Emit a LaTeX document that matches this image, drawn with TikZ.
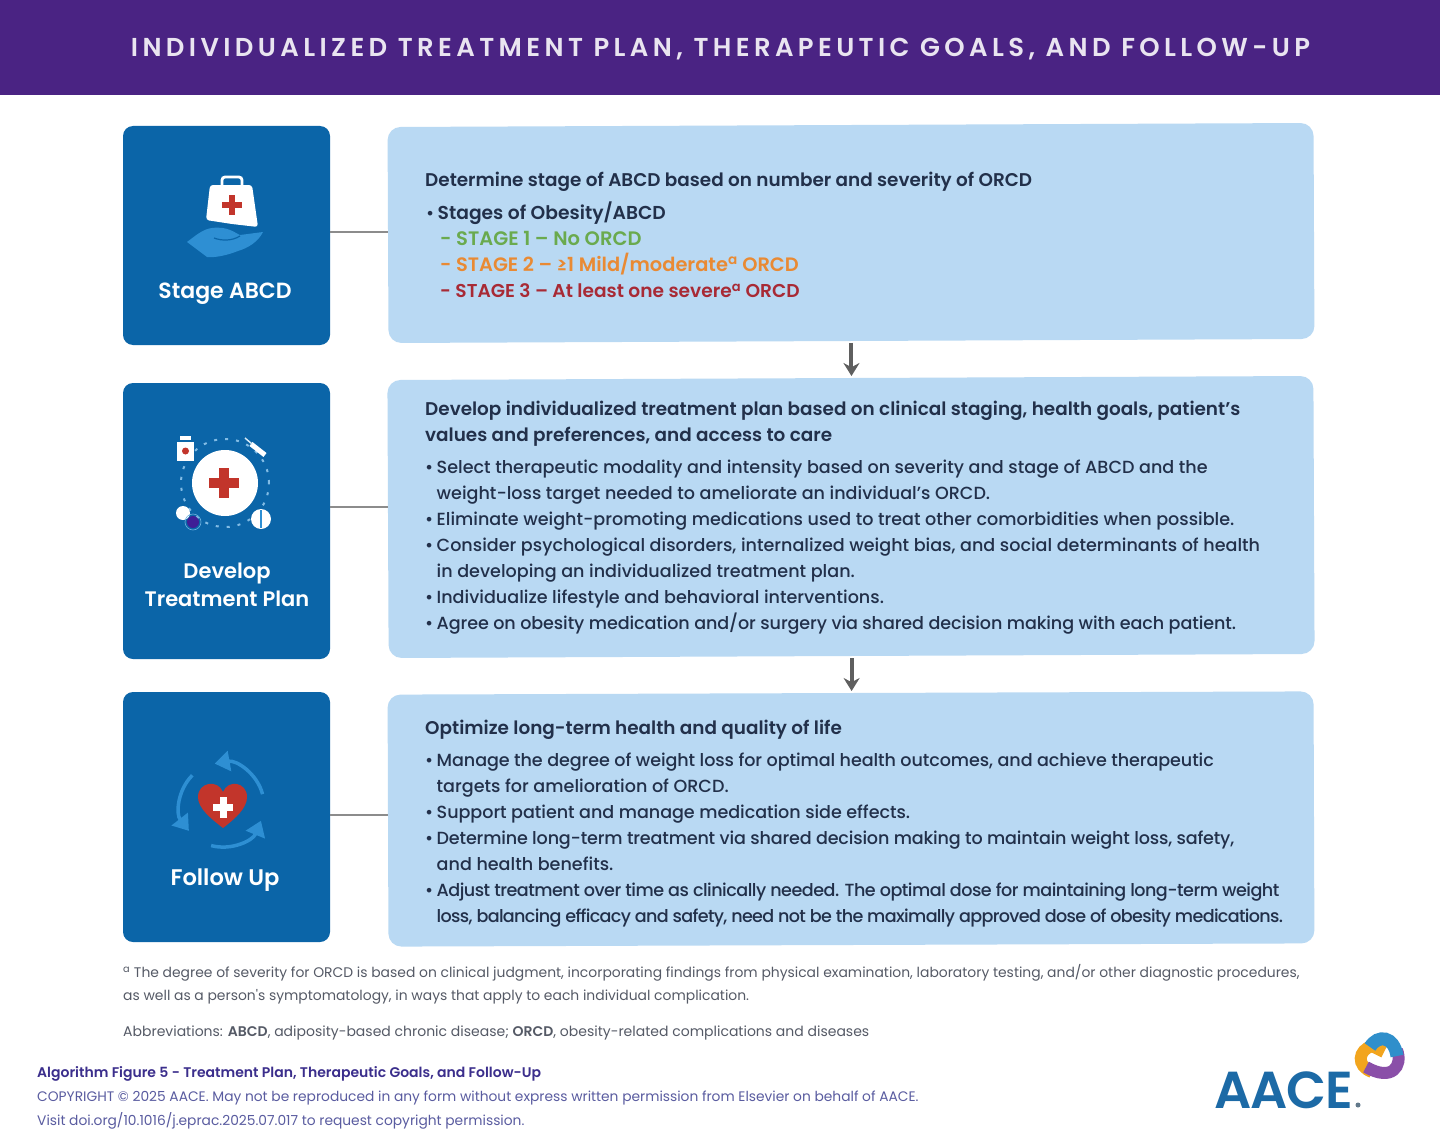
\documentclass[tikz,border=0pt]{standalone}
\usepackage{fontspec}
\setmainfont{Poppins Medium}[BoldFont={Poppins SemiBold}]
\newfontfamily\regf{Poppins}
\usetikzlibrary{arrows.meta,calc}
\definecolor{hdr}{HTML}{4A2383}
\definecolor{navy}{HTML}{0B65A8}
\definecolor{pale}{HTML}{B9D9F3}
\definecolor{ink}{HTML}{22304A}
\definecolor{stg1}{HTML}{6AAA4E}
\definecolor{stg2}{HTML}{E98A33}
\definecolor{stg3}{HTML}{A82A35}
\definecolor{redx}{HTML}{C2352B}
\definecolor{sky}{HTML}{2E8FD3}
\definecolor{lnk}{HTML}{8C8C8C}
\definecolor{arw}{HTML}{5F5F5F}
\definecolor{foot}{HTML}{555A66}
\definecolor{algo}{HTML}{3B2E8C}
\definecolor{copyc}{HTML}{5A5CA0}
\definecolor{logob}{HTML}{1C6AA6}
\definecolor{knotb}{HTML}{2F8FCB}
\definecolor{knoto}{HTML}{F2A51E}
\definecolor{knotp}{HTML}{8A4FA8}
\tikzset{
 x=1pt,y=-1pt,
 stagebox/.style={draw=none,fill=navy,rounded corners=10pt,minimum width=207pt,inner sep=0pt,outer sep=0pt},
 infobox/.style={draw=none,fill=pale,rounded corners=13pt,minimum width=926pt,inner sep=0pt,outer sep=0pt},
 stagelabel/.style={text=white,font=\bfseries\fontsize{21}{28}\selectfont,align=center,inner sep=0pt},
 headtext/.style={anchor=north west,inner sep=0pt,text=ink,align=left,font=\bfseries\fontsize{18.4}{26}\selectfont},
 bodytext/.style={anchor=north west,inner sep=0pt,text=ink,align=left,font=\fontsize{17.57}{26}\selectfont},
 foottext/.style={anchor=north west,inner sep=0pt,text=foot,align=left,font=\regf\fontsize{13.9}{23}\selectfont},
 linkline/.style={draw=lnk,line width=2pt},
 flowarrow/.style={draw=arw,line width=4pt,-{Stealth[length=13pt,width=16pt]},shorten >=2pt,shorten <=2pt},
 cyclearrow/.style={draw=sky,line width=3.5pt,-{Triangle[length=15pt,width=20pt]}},
}
\newcommand{\itm}[1]{\makebox[11.5pt][l]{•}#1}
\newcommand{\cont}[1]{\hspace*{11.5pt}#1}
\newcommand{\tight}[1]{\addfontfeatures{LetterSpace=#1}}
\newcommand{\stageline}[3]{\hspace*{14pt}{\textcolor{#1}{\bfseries\fontsize{#2}{26}\selectfont - #3}}}
\newcommand{\redcross}[3]{\fill[redx] ($(#1,#2)+(-#3/2,-#3/6)$) rectangle ($(#1,#2)+(#3/2,#3/6)$);\fill[redx] ($(#1,#2)+(-#3/6,-#3/2)$) rectangle ($(#1,#2)+(#3/6,#3/2)$);}
\begin{document}
\begin{tikzpicture}
\useasboundingbox (0,0) rectangle (1440,1137);
\fill[white] (0,0) rectangle (1440,1137);
\node[fill=hdr,minimum width=1440pt,minimum height=95pt,inner sep=0pt,outer sep=0pt,anchor=north west] (banner) at (0,0) {};
\node[text=white!88!hdr,inner sep=0pt] (title) at (720.5,49) {\bfseries\addfontfeatures{LetterSpace=17}\fontsize{25.9}{30}\selectfont INDIVIDUALIZED TREATMENT PLAN, THERAPEUTIC GOALS, AND FOLLOW-UP};

% boxes
\node[stagebox,minimum height=219pt] (sA) at (226.5,235.5) {};
\node[stagebox,minimum height=276pt] (sB) at (226.5,521) {};
\node[stagebox,minimum height=250pt] (sC) at (226.5,817) {};
\node[infobox,minimum height=216pt,rotate=0.25] (tA) at (851,233) {};
\node[infobox,minimum height=278pt,rotate=0.25] (tB) at (851,517) {};
\node[infobox,minimum height=252pt,rotate=0.2] (tC) at (851,819) {};

% connectors
\draw[linkline] ([yshift=3pt]tA.west -| sA.east) -- ([yshift=3pt]tA.west);
\draw[linkline] ([yshift=12pt]tB.west -| sB.east) -- ([yshift=12pt]tB.west);
\draw[linkline] ([yshift=5.5pt]tC.west -| sC.east) -- ([yshift=5.5pt]tC.west);
\draw[flowarrow] (tA.south) -- (tA.south |- tB.north);
\draw[flowarrow] (tB.south) -- (tB.south |- tC.north);

% stage labels
\node[stagelabel,font=\bfseries\fontsize{22}{28}\selectfont] (lA) at (225,294) {Stage ABCD};
\node[stagelabel] (lB) at (227,585) {Develop\\Treatment Plan};
\node[stagelabel,font=\bfseries\fontsize{22.6}{28}\selectfont] (lC) at (225,880) {Follow Up};

% text A
\node[headtext] (hA) at (425,172) {Determine stage of ABCD based on number and severity of ORCD};
\node[bodytext] (bA) at (426,202) {\itm{\textbf{\fontsize{18.7}{26}\selectfont Stages of Obesity/ABCD}}\\
 \stageline{stg1}{19.5}{STAGE 1 – No ORCD}\\
 \stageline{stg2}{19.4}{STAGE 2 – ≥1 Mild/moderate\textsuperscript{a} ORCD}\\
 \stageline{stg3}{18.6}{STAGE 3 – At least one severe\textsuperscript{a} ORCD}};

% text B
\node[headtext] (hB) at (425,401) {Develop individualized treatment plan based on clinical staging, health goals, patient's\\values and preferences, and access to care};
\node[bodytext] (bB) at (425,460) {\itm{Select therapeutic modality and intensity based on severity and stage of ABCD and the}\\
 \cont{weight-loss target needed to ameliorate an individual's ORCD.}\\
 \itm{Eliminate weight-promoting medications used to treat other comorbidities when possible.}\\
 \itm{Consider psychological disorders, internalized weight bias, and social determinants of health}\\
 \cont{in developing an individualized treatment plan.}\\
 \itm{Individualize lifestyle and behavioral interventions.}\\
 {\tight{-0.6}\itm{Agree on obesity medication and/or surgery via shared decision making with each patient.}}};

% text C
\node[headtext] (hC) at (425,720) {Optimize long-term health and quality of life};
\node[bodytext] (bC) at (425,753) {{\tight{-0.5}\itm{Manage the degree of weight loss for optimal health outcomes, and achieve therapeutic}}\\
 \cont{targets for amelioration of ORCD.}\\
 {\tight{-0.3}\itm{Support patient and manage medication side effects.}}\\
 {\tight{-1}\itm{Determine long-term treatment via shared decision making to maintain weight loss, safety,}}\\
 \cont{and health benefits.}\\
 {\tight{-2.9}\itm{Adjust treatment over time as clinically needed. The optimal dose for maintaining long-term weight}}\\
 {\tight{-3.8}\cont{loss, balancing efficacy and safety, need not be the maximally approved dose of obesity medications.}}};

% footnotes
\node[foottext] (fn) at (123,964) {\textsuperscript{a} The degree of severity for ORCD is based on clinical judgment, incorporating findings from physical examination, laboratory testing, and/or other diagnostic procedures,\\as well as a person's symptomatology, in ways that apply to each individual complication.};
\node[foottext,font=\regf\fontsize{14}{23}\selectfont] (ab) at (123,1026) {Abbreviations: {\fontspec{Poppins SemiBold}ABCD}, adiposity-based chronic disease; {\fontspec{Poppins SemiBold}ORCD}, obesity-related complications and diseases};
\node[anchor=north west,inner sep=0pt,text=algo,font=\bfseries\fontsize{14}{24}\selectfont] (alg) at (37,1066) {Algorithm Figure 5 - Treatment Plan, Therapeutic Goals, and Follow-Up};
\node[anchor=north west,inner sep=0pt,text=copyc,align=left,font=\regf\fontsize{13.8}{24}\selectfont] (cp) at (37,1091) {COPYRIGHT © 2025 AACE. May not be reproduced in any form without express written permission from Elsevier on behalf of AACE.\\Visit doi.org/10.1016/j.eprac.2025.07.017 to request copyright permission.};

% logo
\node[anchor=base west,inner sep=0pt,text=logob,font=\fontspec{Poppins SemiBold}\fontsize{52}{52}\selectfont] (logo) at (1214,1108) {\addfontfeatures{LetterSpace=-2}AACE};
\fill[gray!70!logob] (1358,1105) circle (2.5pt);
\begin{scope}[line cap=butt]
\draw[draw=knoto,line width=12pt] (1384,1052) -- (1372,1046) .. controls (1358,1050) and (1356,1066) .. (1372,1072);
\draw[draw=knotp,line width=12pt] (1397,1050) .. controls (1403,1066) and (1392,1082) .. (1366,1067);
\draw[draw=knotb,line width=13pt] (1370,1047) .. controls (1378,1034) and (1394,1036) .. (1397,1056);
\end{scope}

% icon A
\fill[sky] (187,242) .. controls (195,236) and (203,229) .. (212,228) .. controls (228,226) and (235,233) .. (240,235) -- (263,232) .. controls (258,242) and (248,248) .. (238,251) .. controls (228,255) and (215,258) .. (207,257) -- cycle;
\draw[navy,line width=1.2pt] (214,238) .. controls (222,241) and (232,241) .. (240,236);
\draw[white,line width=2.8pt,rounded corners=3pt] (222,185) -- (222,177) -- (242,177) -- (242,185);
\fill[white,rounded corners=3pt] (210,185) -- (252,185) -- (258,227) -- (232,224) -- (206,220) -- cycle;
\redcross{232}{205}{20}

% icon B
\draw[draw=sky!60!white,line width=2pt,dash pattern=on 3pt off 8pt] (225,483) circle (44pt);
\fill[white] (225,483) circle (33pt);
\redcross{224}{483}{30}
\fill[white] (177,442) rectangle (194,461);
\fill[white] (180,436) rectangle (191,440);
\fill[redx] (185.5,451) circle (3.5pt);
\draw[white,line width=5pt] (251,444) -- (265,455);
\draw[white!80!sky,line width=1.5pt] (245,438) -- (252,444);
\fill[white] (183,513) circle (7pt);
\fill[hdr!85!blue] (193,522) circle (6pt);
\draw[sky!70!white,line width=.6pt] (193,522) circle (8pt);
\fill[white] (261,519) circle (10pt);
\draw[sky,line width=1.6pt] (261,510) -- (261,528);

% icon C
\draw[cyclearrow] ([shift={(15:42pt)}]222,805) arc[start angle=15,end angle=100,radius=42pt];
\draw[cyclearrow] ([shift={(135:42pt)}]222,805) arc[start angle=135,end angle=218,radius=42pt];
\draw[cyclearrow] ([shift={(255:42pt)}]222,805) arc[start angle=255,end angle=338,radius=42pt];
\fill[redx] (223,828) .. controls (210,818) and (198,808) .. (198,797) .. controls (198,782) and (218,779) .. (223,792) .. controls (228,779) and (247,782) .. (247,797) .. controls (247,808) and (236,818) .. (223,828) -- cycle;
\fill[white] (213,804) rectangle (233,811);
\fill[white] (219.5,797) rectangle (226.5,818);
\end{tikzpicture}
\end{document}
